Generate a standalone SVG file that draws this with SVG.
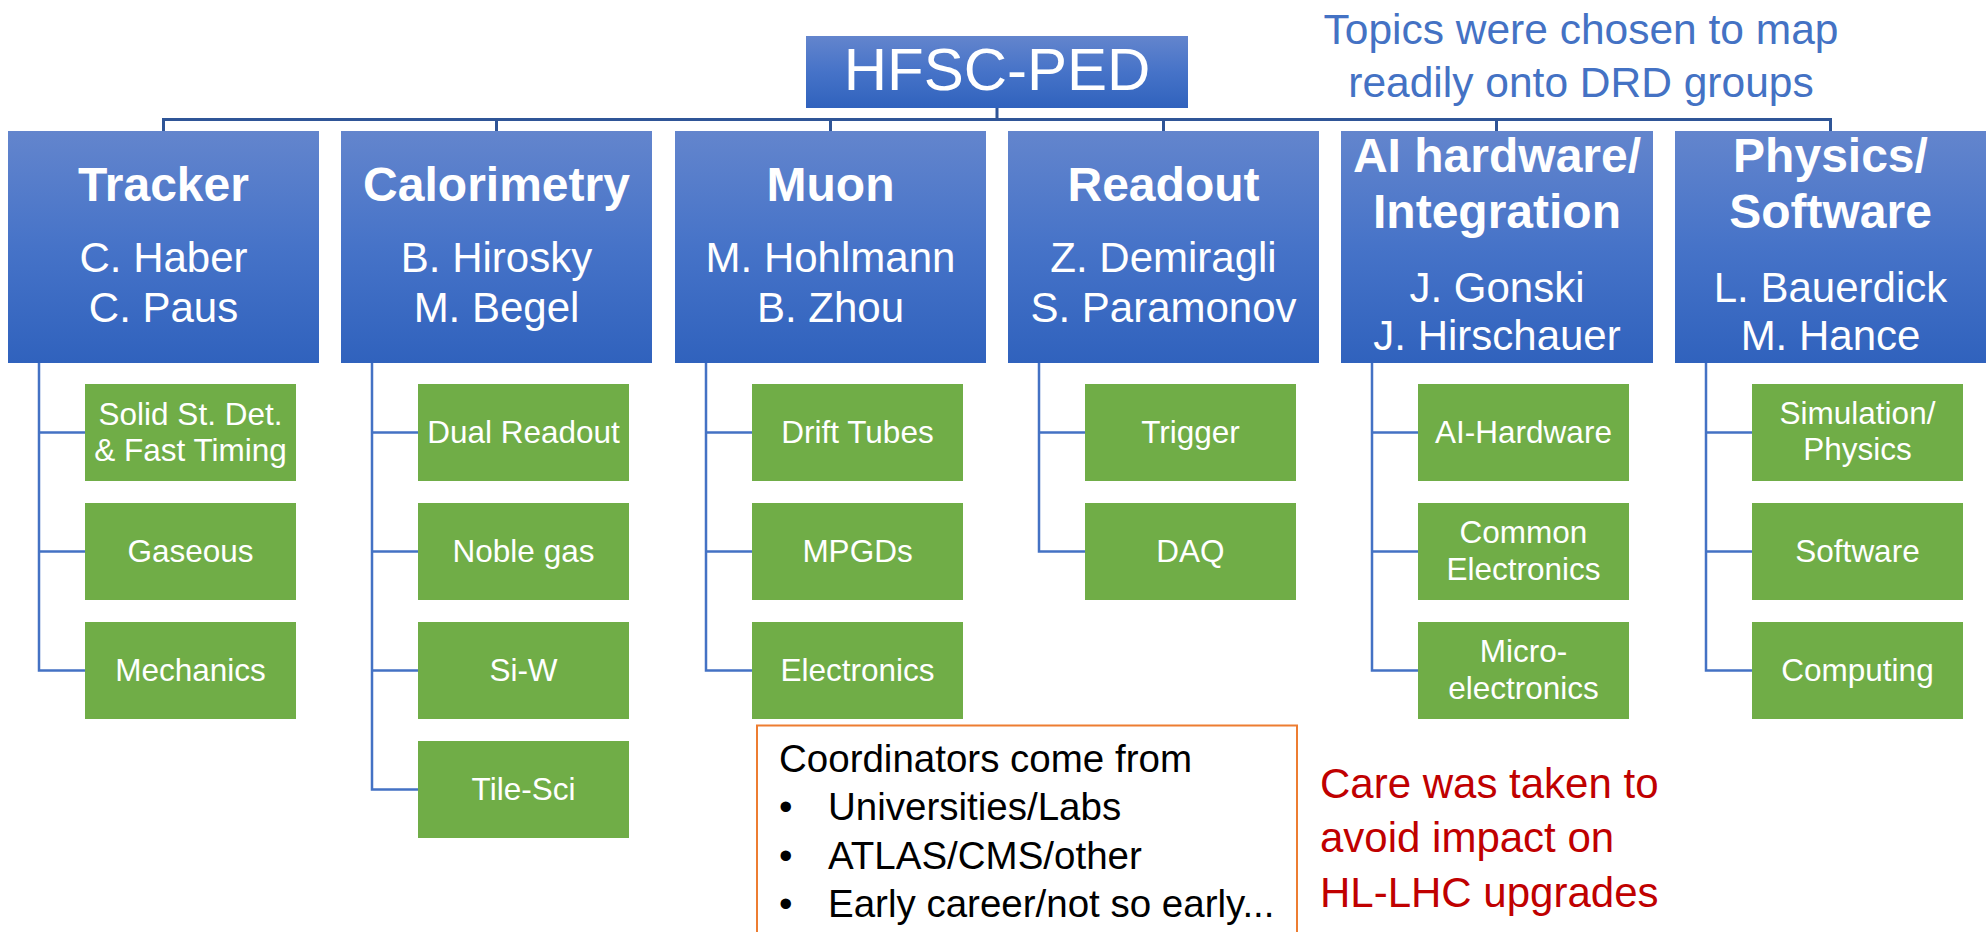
<svg xmlns="http://www.w3.org/2000/svg" width="1986" height="932" viewBox="0 0 1986 932">
  <defs>
    <linearGradient id="blueGrad" x1="0" y1="0" x2="0" y2="1">
      <stop offset="0" stop-color="#6385CD"/>
      <stop offset="0.5" stop-color="#4673C8"/>
      <stop offset="1" stop-color="#3062BD"/>
    </linearGradient>
  </defs>
  <style>
    text { font-family: "Liberation Sans", Arial, sans-serif; }
    .head { fill: url(#blueGrad); }
    .leaf { fill: #70AD47; }
    .title { fill: #FFFFFF; font-size: 48px; font-weight: bold; text-anchor: middle; }
    .name { fill: #FFFFFF; font-size: 42px; text-anchor: middle; }
    .leaftxt { fill: #FFFFFF; font-size: 31.5px; text-anchor: middle; }
    .bus { fill: none; stroke: #2F5597; stroke-width: 3; }
    .branch { fill: none; stroke: #4472C4; stroke-width: 2.5; }
    .note-blue { fill: #4472C4; font-size: 42.5px; text-anchor: middle; }
    .note-red { fill: #C00000; font-size: 42px; }
    .note-black { fill: #000000; font-size: 38.5px; }
  </style>

  <!-- connectors -->
  <g id="connectors">
    <path class="bus" d="M997,108 V119.5 M163.5,131 V119.5 H1830.5 V131 M496.5,119.5 V131 M830.5,119.5 V131 M1163.5,119.5 V131 M1496.5,119.5 V131"/>
    <!-- Tracker -->
    <path class="branch" d="M39,363 V670.5 H85 M39,432.5 H85 M39,551.5 H85"/>
    <!-- Calorimetry -->
    <path class="branch" d="M372,363 V789.5 H418 M372,432.5 H418 M372,551.5 H418 M372,670.5 H418"/>
    <!-- Muon -->
    <path class="branch" d="M706,363 V670.5 H752 M706,432.5 H752 M706,551.5 H752"/>
    <!-- Readout -->
    <path class="branch" d="M1039,363 V551.5 H1085 M1039,432.5 H1085"/>
    <!-- AI hardware / Integration -->
    <path class="branch" d="M1372,363 V670.5 H1418 M1372,432.5 H1418 M1372,551.5 H1418"/>
    <!-- Physics / Software -->
    <path class="branch" d="M1706,363 V670.5 H1752 M1706,432.5 H1752 M1706,551.5 H1752"/>
  </g>

  <!-- root -->
  <g id="root">
    <rect class="head" x="806" y="36" width="382" height="72"/>
    <text x="997" y="90" fill="#FFFFFF" font-size="60" text-anchor="middle">HFSC-PED</text>
  </g>

  <!-- first level -->
  <g id="tracker">
    <rect class="head" x="8" y="131" width="311" height="232"/>
    <text class="title" x="163.5" y="201">Tracker</text>
    <text class="name" x="163.5" y="272">C. Haber</text>
    <text class="name" x="163.5" y="322">C. Paus</text>
  </g>
  <g id="calorimetry">
    <rect class="head" x="341" y="131" width="311" height="232"/>
    <text class="title" x="496.5" y="201">Calorimetry</text>
    <text class="name" x="496.5" y="272">B. Hirosky</text>
    <text class="name" x="496.5" y="322">M. Begel</text>
  </g>
  <g id="muon">
    <rect class="head" x="675" y="131" width="311" height="232"/>
    <text class="title" x="830.5" y="201">Muon</text>
    <text class="name" x="830.5" y="272">M. Hohlmann</text>
    <text class="name" x="830.5" y="322">B. Zhou</text>
  </g>
  <g id="readout">
    <rect class="head" x="1008" y="131" width="311" height="232"/>
    <text class="title" x="1163.5" y="201">Readout</text>
    <text class="name" x="1163.5" y="272">Z. Demiragli</text>
    <text class="name" x="1163.5" y="322">S. Paramonov</text>
  </g>
  <g id="ai-integration">
    <rect class="head" x="1341" y="131" width="312" height="232"/>
    <text class="title" x="1497" y="172">AI hardware/</text>
    <text class="title" x="1497" y="228">Integration</text>
    <text class="name" x="1497" y="302">J. Gonski</text>
    <text class="name" x="1497" y="350">J. Hirschauer</text>
  </g>
  <g id="physics-software">
    <rect class="head" x="1675" y="131" width="320" height="232"/>
    <text class="title" x="1830.5" y="172">Physics/</text>
    <text class="title" x="1830.5" y="228">Software</text>
    <text class="name" x="1830.5" y="302">L. Bauerdick</text>
    <text class="name" x="1830.5" y="350">M. Hance</text>
  </g>

  <!-- Tracker topics -->
  <g id="solid-state">
    <rect class="leaf" x="85" y="384" width="211" height="97"/>
    <text class="leaftxt" x="190.5" y="425">Solid St. Det.</text>
    <text class="leaftxt" x="190.5" y="461">&amp; Fast Timing</text>
  </g>
  <g id="gaseous">
    <rect class="leaf" x="85" y="503" width="211" height="97"/>
    <text class="leaftxt" x="190.5" y="562">Gaseous</text>
  </g>
  <g id="mechanics">
    <rect class="leaf" x="85" y="622" width="211" height="97"/>
    <text class="leaftxt" x="190.5" y="681">Mechanics</text>
  </g>

  <!-- Calorimetry topics -->
  <g id="dual-readout">
    <rect class="leaf" x="418" y="384" width="211" height="97"/>
    <text class="leaftxt" x="523.5" y="443">Dual Readout</text>
  </g>
  <g id="noble-gas">
    <rect class="leaf" x="418" y="503" width="211" height="97"/>
    <text class="leaftxt" x="523.5" y="562">Noble gas</text>
  </g>
  <g id="si-w">
    <rect class="leaf" x="418" y="622" width="211" height="97"/>
    <text class="leaftxt" x="523.5" y="681">Si-W</text>
  </g>
  <g id="tile-sci">
    <rect class="leaf" x="418" y="741" width="211" height="97"/>
    <text class="leaftxt" x="523.5" y="800">Tile-Sci</text>
  </g>

  <!-- Muon topics -->
  <g id="drift-tubes">
    <rect class="leaf" x="752" y="384" width="211" height="97"/>
    <text class="leaftxt" x="857.5" y="443">Drift Tubes</text>
  </g>
  <g id="mpgds">
    <rect class="leaf" x="752" y="503" width="211" height="97"/>
    <text class="leaftxt" x="857.5" y="562">MPGDs</text>
  </g>
  <g id="muon-electronics">
    <rect class="leaf" x="752" y="622" width="211" height="97"/>
    <text class="leaftxt" x="857.5" y="681">Electronics</text>
  </g>

  <!-- Readout topics -->
  <g id="trigger">
    <rect class="leaf" x="1085" y="384" width="211" height="97"/>
    <text class="leaftxt" x="1190.5" y="443">Trigger</text>
  </g>
  <g id="daq">
    <rect class="leaf" x="1085" y="503" width="211" height="97"/>
    <text class="leaftxt" x="1190.5" y="562">DAQ</text>
  </g>

  <!-- AI hardware / Integration topics -->
  <g id="ai-hardware">
    <rect class="leaf" x="1418" y="384" width="211" height="97"/>
    <text class="leaftxt" x="1523.5" y="443">AI-Hardware</text>
  </g>
  <g id="common-electronics">
    <rect class="leaf" x="1418" y="503" width="211" height="97"/>
    <text class="leaftxt" x="1523.5" y="543">Common</text>
    <text class="leaftxt" x="1523.5" y="580">Electronics</text>
  </g>
  <g id="microelectronics">
    <rect class="leaf" x="1418" y="622" width="211" height="97"/>
    <text class="leaftxt" x="1523.5" y="662">Micro-</text>
    <text class="leaftxt" x="1523.5" y="699">electronics</text>
  </g>

  <!-- Physics / Software topics -->
  <g id="simulation-physics">
    <rect class="leaf" x="1752" y="384" width="211" height="97"/>
    <text class="leaftxt" x="1857.5" y="424">Simulation/</text>
    <text class="leaftxt" x="1857.5" y="460">Physics</text>
  </g>
  <g id="software">
    <rect class="leaf" x="1752" y="503" width="211" height="97"/>
    <text class="leaftxt" x="1857.5" y="562">Software</text>
  </g>
  <g id="computing">
    <rect class="leaf" x="1752" y="622" width="211" height="97"/>
    <text class="leaftxt" x="1857.5" y="681">Computing</text>
  </g>

  <!-- annotations -->
  <g id="note-topics">
    <text class="note-blue" x="1581" y="44">Topics were chosen to map</text>
    <text class="note-blue" x="1581" y="97">readily onto DRD groups</text>
  </g>

  <g id="note-coordinators">
    <rect x="757" y="725.5" width="540" height="240" fill="#FFFFFF" stroke="#ED7D31" stroke-width="2"/>
    <text class="note-black" x="779" y="772">Coordinators come from</text>
    <text class="note-black" x="779" y="820">•</text>
    <text class="note-black" x="828" y="820">Universities/Labs</text>
    <text class="note-black" x="779" y="869">•</text>
    <text class="note-black" x="828" y="869">ATLAS/CMS/other</text>
    <text class="note-black" x="779" y="917">•</text>
    <text class="note-black" x="828" y="917">Early career/not so early...</text>
  </g>

  <g id="note-care">
    <text class="note-red" x="1320" y="798">Care was taken to</text>
    <text class="note-red" x="1320" y="852">avoid impact on</text>
    <text class="note-red" x="1320" y="907">HL-LHC upgrades</text>
  </g>
</svg>
